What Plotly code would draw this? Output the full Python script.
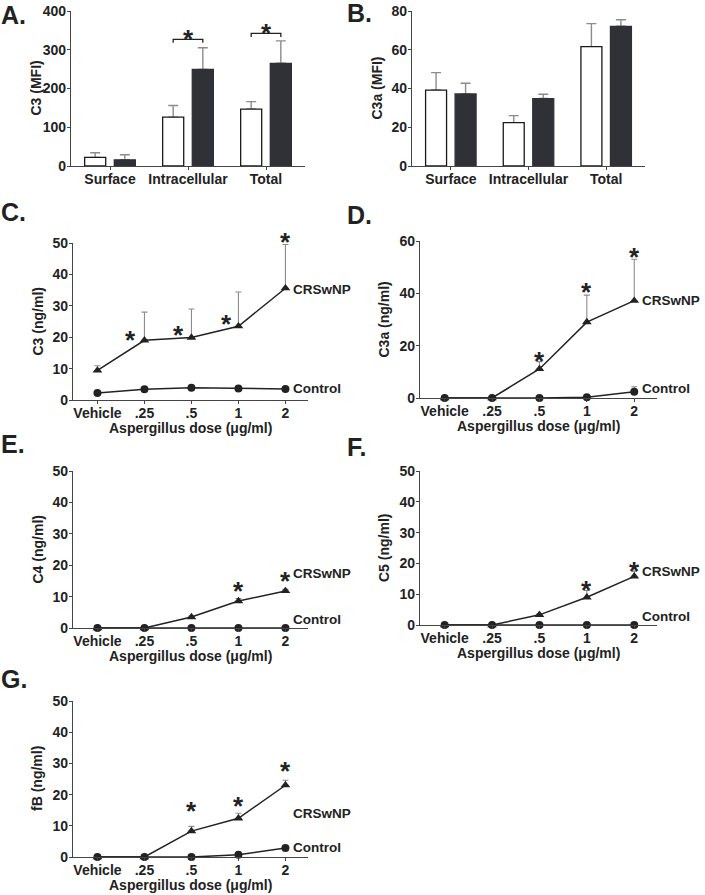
import plotly.graph_objects as go

W, H = 705, 895

# --- values ---
sites = ["Surface", "Intracellular", "Total"]

c3_mfi_ctrl = [22, 126, 147]
c3_mfi_ctrl_sem = [12, 30, 19]
c3_mfi_crs = [16, 249, 265]
c3_mfi_crs_sem = [13, 56, 58]

c3a_mfi_ctrl = [39.2, 22.4, 61.6]
c3a_mfi_ctrl_sem = [9.0, 3.6, 11.9]
c3a_mfi_crs = [37.2, 34.8, 72.1]
c3a_mfi_crs_sem = [5.5, 2.2, 3.4]

doses = ["Vehicle", ".25", ".5", "1", "2"]

c3_crs = [9.4, 19.0, 19.9, 23.5, 35.6]
c3_crs_sem = [1.5, 9.0, 9.1, 10.9, 13.9]
c3_ctrl = [2.2, 3.4, 3.9, 3.7, 3.5]
c3_ctrl_sem = [0, 0, 0, 0, 0]

c3a_crs = [0, 0, 11.1, 29.0, 37.2]
c3a_crs_sem = [0, 0, 2.8, 10.3, 15.8]
c3a_ctrl = [0, 0, 0, 0.3, 2.4]
c3a_ctrl_sem = [0, 0, 0, 0, 1.9]

c4_crs = [0, 0, 3.5, 8.6, 11.8]
c4_crs_sem = [0, 0, 0.3, 0.8, 0.5]
c4_ctrl = [0, 0, 0, 0, 0]

c5_crs = [0, 0, 3.3, 9.0, 15.8]
c5_crs_sem = [0, 0, 0.3, 2.2, 1.7]
c5_ctrl = [0, 0, 0, 0, 0]

fb_crs = [0, 0, 8.3, 12.4, 23.0]
fb_crs_sem = [0, 0, 1.5, 1.6, 1.6]
fb_ctrl = [0, 0, 0, 0.7, 2.9]

# significance marks: (category index, height)
stars_a = ([1, 2], [345, 362])
brackets_a = ([1, 2], [327, 342])
stars_c = ([0.7, 1.72, 2.75, 4], [21.2, 22.8, 26.4, 52.7])
stars_d = ([2, 3, 4], [16.7, 43.1, 56.7])
stars_e = ([3, 4], [13.9, 17.2])
stars_f = ([3, 4], [13.6, 19.9])
stars_g = ([2, 3, 4], [17.0, 18.5, 29.9])

# end-of-line series labels: (CRSwNP height, Control height)
labels_c = (35.3, 3.7)
labels_d = (37.2, 3.7)
labels_e = (17.2, 2.8)
labels_f = (17.3, 2.6)
labels_g = (14.1, 3.1)

# --- styling ---
FONT = "Liberation Sans"
INK = "#222222"
AXIS = "#444444"
ERR = "#8c8c8c"
DARK = "#303137"
BAR_W = 0.27
OFF_OPEN = -0.325
OFF_FILLED = 0.055
STAR_DROP = -7

# panel boxes in pixels: x0, x1, ytop, ybottom
boxes = {
    1: (71, 305, 11, 166),
    2: (412, 645, 11, 166),
    3: (73, 308, 243, 400),
    4: (420, 657, 241, 398),
    5: (73, 308, 471, 628),
    6: (420, 657, 471, 625),
    7: (73, 308, 701, 857),
}
yranges = {1: 400, 2: 80, 3: 50, 4: 60, 5: 50, 6: 50, 7: 50}


def px(x):
    return x / W


def py(y):
    return 1 - y / H


fig = go.Figure()
annotations = []
shapes = []


def ax_names(n):
    return ("x", "y") if n == 1 else (f"x{n}", f"y{n}")


def add_bars(n, vals_open, sem_open, vals_filled, sem_filled):
    xa, ya = ax_names(n)
    for vals, sem, off, fill in [
        (vals_open, sem_open, OFF_OPEN, "white"),
        (vals_filled, sem_filled, OFF_FILLED, DARK),
    ]:
        # transparent carrier for the one-sided error bar, drawn beneath the bar
        fig.add_trace(go.Bar(
            x=sites, y=vals, offset=off, width=BAR_W,
            marker=dict(color="rgba(0,0,0,0)", line=dict(width=0)),
            error_y=dict(type="data", symmetric=False, array=sem,
                         arrayminus=[0] * len(sem), color=ERR, thickness=1.4, width=5),
            xaxis=xa, yaxis=ya, showlegend=False, hoverinfo="skip",
        ))
        fig.add_trace(go.Bar(
            x=sites, y=vals, offset=off, width=BAR_W,
            marker=dict(color=fill, line=dict(color="#1a1a1a" if fill == "white" else DARK, width=1.3)),
            xaxis=xa, yaxis=ya, showlegend=False,
        ))


def add_lines(n, crs, crs_sem, ctrl, ctrl_sem=None):
    xa, ya = ax_names(n)
    for vals, sem, sym in [(crs, crs_sem, "triangle-up"), (ctrl, ctrl_sem, "circle")]:
        err = None
        if sem is not None and any(sem):
            err = dict(type="data", symmetric=False,
                       array=[s if s else None for s in sem],
                       arrayminus=[0] * len(sem), color=ERR, thickness=1.1, width=3)
        fig.add_trace(go.Scatter(
            x=doses, y=vals, mode="lines+markers",
            line=dict(color=INK, width=1.5),
            marker=dict(symbol=sym, size=8 if sym == "circle" else 8.5, color=INK),
            error_y=err, cliponaxis=False,
            xaxis=xa, yaxis=ya, showlegend=False,
        ))


def add_star(n, x, y):
    # annotations outside the axis range are hidden, so clamp and shift instead
    xa, ya = ax_names(n)
    top = yranges[n]
    x0, x1, yt, yb = boxes[n]
    shift = STAR_DROP
    if y > top:
        shift += (y - top) * (yb - yt) / top
        y = top
    annotations.append(dict(
        x=x, y=y, xref=xa, yref=ya, text="*", showarrow=False,
        font=dict(size=26, color=INK), xanchor="center", yanchor="middle", yshift=shift,
    ))


def add_labels(n, heights):
    xa, ya = ax_names(n)
    for name, y in zip(["CRSwNP", "Control"], heights):
        annotations.append(dict(
            x=4, y=y, xref=xa, yref=ya, text=name, showarrow=False,
            xanchor="left", yanchor="middle", xshift=6, font=dict(size=13.5, color=INK),
        ))


def set_axes(n, ytick, ytitle, xcats, xrange, xtitle=True):
    x0, x1, yt, yb = boxes[n]
    xa, ya = ax_names(n)
    xkey = "xaxis" if n == 1 else f"xaxis{n}"
    ykey = "yaxis" if n == 1 else f"yaxis{n}"
    common = dict(showline=True, linecolor=AXIS, linewidth=1.3, ticks="outside",
                  ticklen=3, tickwidth=1.3, tickcolor=AXIS, showgrid=False,
                  zeroline=False, automargin=False, tickfont=dict(size=14, color=INK))
    fig.layout[xkey] = dict(domain=[px(x0), px(x1)], anchor=ya, type="category",
                            categoryorder="array", categoryarray=xcats,
                            range=xrange, ticklabelstandoff=-3, **common)
    fig.layout[ykey] = dict(domain=[py(yb), py(yt)], anchor=xa, range=[0, yranges[n]],
                            dtick=ytick, ticklabelstandoff=-2, **common)
    annotations.append(dict(
        x=px(x0 - 36), y=py((yt + yb) / 2), xref="paper", yref="paper",
        text=ytitle, textangle=-90, showarrow=False, xanchor="center", yanchor="middle",
        font=dict(size=14, color=INK),
    ))
    if xtitle:
        annotations.append(dict(
            x=px((x0 + x1) / 2), y=py(yb + 28), xref="paper", yref="paper",
            text="Aspergillus dose (μg/ml)", showarrow=False,
            xanchor="center", yanchor="middle", font=dict(size=14, color=INK),
        ))


# A / B: flow cytometry bars
add_bars(1, c3_mfi_ctrl, c3_mfi_ctrl_sem, c3_mfi_crs, c3_mfi_crs_sem)
add_bars(2, c3a_mfi_ctrl, c3a_mfi_ctrl_sem, c3a_mfi_crs, c3a_mfi_crs_sem)
set_axes(1, 100, "C3 (MFI)", sites, [-0.5, 2.5], xtitle=False)
set_axes(2, 20, "C3a (MFI)", sites, [-0.5, 2.5], xtitle=False)

c_open = OFF_OPEN + BAR_W / 2
c_filled = OFF_FILLED + BAR_W / 2
for cat, y in zip(*brackets_a):
    shapes.append(dict(
        type="path", xref="x", yref="y",
        path=f"M {cat + c_open},{y - 9} L {cat + c_open},{y} L {cat + c_filled},{y} L {cat + c_filled},{y - 9}",
        line=dict(color=INK, width=1.3),
    ))
for x, y in zip(*stars_a):
    add_star(1, x + (c_open + c_filled) / 2, y)

# C-G: dose responses
line_range = [-0.52, 4.48]
add_lines(3, c3_crs, c3_crs_sem, c3_ctrl, c3_ctrl_sem)
add_lines(4, c3a_crs, c3a_crs_sem, c3a_ctrl, c3a_ctrl_sem)
add_lines(5, c4_crs, c4_crs_sem, c4_ctrl)
add_lines(6, c5_crs, c5_crs_sem, c5_ctrl)
add_lines(7, fb_crs, fb_crs_sem, fb_ctrl)
set_axes(3, 10, "C3 (ng/ml)", doses, line_range)
set_axes(4, 20, "C3a (ng/ml)", doses, line_range)
set_axes(5, 10, "C4 (ng/ml)", doses, line_range)
set_axes(6, 10, "C5 (ng/ml)", doses, line_range)
set_axes(7, 10, "fB (ng/ml)", doses, line_range)

for n, st in zip([3, 4, 5, 6, 7], [stars_c, stars_d, stars_e, stars_f, stars_g]):
    for x, y in zip(*st):
        add_star(n, x, y)
for n, lb in zip([3, 4, 5, 6, 7], [labels_c, labels_d, labels_e, labels_f, labels_g]):
    add_labels(n, lb)

# panel letters
for letter, x, y in [("A.", -1, 15), ("B.", 345, 13), ("C.", -1, 212), ("D.", 345, 215),
                     ("E.", -1, 444), ("F.", 345, 447), ("G.", -1, 679)]:
    annotations.append(dict(
        x=px(x), y=py(y), xref="paper", yref="paper", text=letter, showarrow=False,
        xanchor="left", yanchor="middle", font=dict(size=25, color=INK),
    ))

fig.update_layout(
    width=W, height=H,
    margin=dict(l=0, r=0, t=0, b=0),
    barmode="overlay",
    paper_bgcolor="white", plot_bgcolor="white",
    font=dict(family=FONT, size=14, color=INK, weight="bold"),
    annotations=annotations,
    shapes=shapes,
    showlegend=False,
)

# drop the browser's default 8px body margin so the figure sits at the page corner
fig.write_html("out.html", config={"displayModeBar": False},
               post_script="document.body.style.margin = '0';")
